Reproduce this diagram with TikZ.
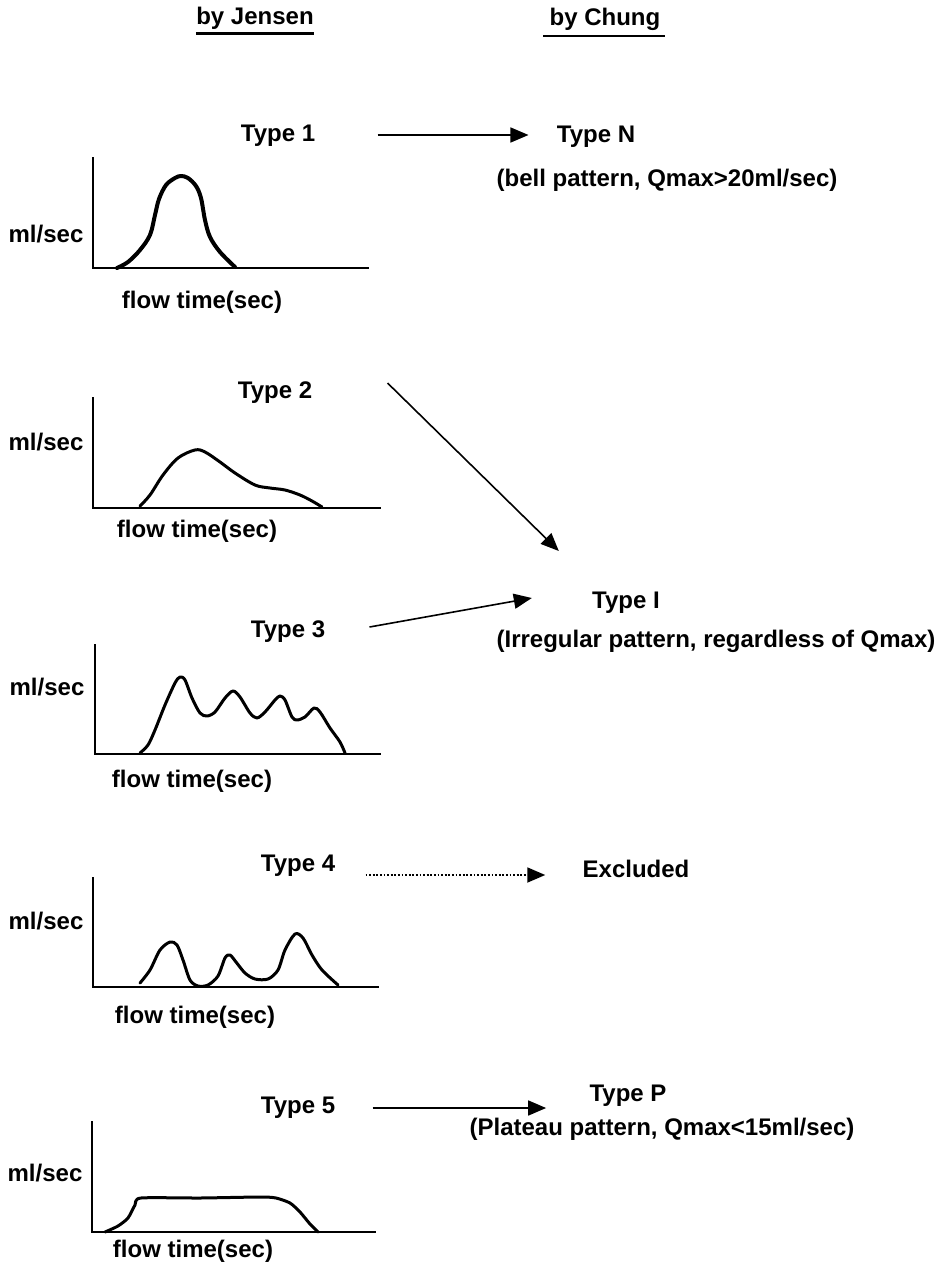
\documentclass[tikz,border=0pt]{standalone}
\usepackage{fontspec}
\setmainfont{Liberation Sans}
\usetikzlibrary{arrows.meta}
\begin{document}
\begin{tikzpicture}[x=0.5pt,y=-0.5pt,
  lbl/.style={font=\bfseries\fontsize{12pt}{14pt}\selectfont, inner sep=0pt, anchor=center},
  axis/.style={line width=1.1pt, line cap=rect},
  curve/.style={line width=1.5pt, line join=round, line cap=round},
  arr/.style={line width=0.8pt, -{Triangle[length=9pt,width=7.5pt]}},
  darr/.style={line width=0.9pt, dash pattern=on 0.9pt off 0.9pt, -{Triangle[length=9pt,width=7.5pt]}},
  ul/.style={line width=1.1pt}]
\useasboundingbox (0,0) rectangle (942,1264);
% headers
\node[lbl] (bj) at (255,18) {by Jensen};
\node[lbl] (bc) at (605,19) {by Chung};
\draw[ul] ([yshift=-2pt]bj.south west) -- ([yshift=-2pt]bj.south east);
\draw[ul] ([xshift=-3pt,yshift=-2.5pt]bc.south west) -- ([xshift=2pt,yshift=-2.5pt]bc.south east);
% right labels
\node[lbl] (tN) at (596,137) {Type N};
\node[lbl] (tNd) at (667,180) {(bell pattern, Qmax>20ml/sec)};
\node[lbl] (tI) at (626,603) {Type I};
\node[lbl] (tId) at (716,641) {(Irregular pattern, regardless of Qmax)};
\node[lbl] (ex) at (636,869) {Excluded};
\node[lbl] (tP) at (628,1096) {Type P};
\node[lbl] (tPd) at (662,1129) {(Plateau pattern, Qmax<15ml/sec)};
% left labels
\node[lbl] (t1) at (278,136) {Type 1};
\node[lbl] (t2) at (275,393) {Type 2};
\node[lbl] (t3) at (288,632) {Type 3};
\node[lbl] (t4) at (298,866) {Type 4};
\node[lbl] (t5) at (298,1108) {Type 5};
\node[lbl] (y1) at (46,234) {ml/sec};
\node[lbl] (x1) at (202,302) {flow time(sec)};
\node[lbl] (y2) at (46,442) {ml/sec};
\node[lbl] (x2) at (197,531) {flow time(sec)};
\node[lbl] (y3) at (47,687) {ml/sec};
\node[lbl] (x3) at (192,781) {flow time(sec)};
\node[lbl] (y4) at (46,921) {ml/sec};
\node[lbl] (x4) at (195,1017) {flow time(sec)};
\node[lbl] (y5) at (45,1173) {ml/sec};
\node[lbl] (x5) at (193,1251) {flow time(sec)};
% arrows
\draw[arr] ([shift={(62,-1)}]t1.east) -- ([shift={(-28,-2)}]tN.west);
\draw[arr] ([shift={(75,-10)}]t2.east) -- ([shift={(-33,-52)}]tI.west);
\draw[arr] ([shift={(44,-5)}]t3.east) -- ([shift={(-60,-5)}]tI.west);
\draw[darr] ([shift={(30,9)}]t4.east) -- ([shift={(-37,6)}]ex.west);
\draw[arr] ([shift={(37,0)}]t5.east) -- ([shift={(-43,12)}]tP.west);
% panel 1
\draw[axis] (93,158) -- (93,268) -- (368,268);
\draw[curve, line width=2pt] plot[smooth, tension=0.55] coordinates {(117,268) (128,262) (140,250) (150,235) (155,215) (159,199) (166,185) (175,178) (181,176) (188,178) (196,186) (201,198) (205,220) (210,237) (220,252) (235,267)};
% panel 2
\draw[axis] (93,398) -- (93,508) -- (380,508);
\draw[curve] plot[smooth, tension=0.55] coordinates {(140,506) (150,495) (163,475) (178,458) (195,450) (205,452) (220,462) (235,473) (255,485) (270,488) (285,490) (300,495) (312,501) (322,507)};
% panel 3
\draw[axis] (95,645) -- (95,754) -- (380,754);
\draw[curve] plot[smooth, tension=0.5] coordinates {(140,753) (148,745) (155,730) (165,705) (175,683) (180,677) (185,680) (192,698) (200,713) (207,716) (215,712) (225,698) (233,691) (240,697) (250,713) (257,718) (265,712) (275,700) (280,696) (285,700) (292,717) (297,720) (305,717) (314,708) (320,712) (330,728) (340,742) (345,753)};
% panel 4
\draw[axis] (93,878) -- (93,987) -- (378,987);
\draw[curve] plot[smooth, tension=0.5] coordinates {(140,983) (150,970) (160,950) (170,942) (177,945) (183,960) (190,980) (198,986) (208,985) (218,976) (225,958) (230,955) (236,962) (245,973) (255,979) (268,979) (278,970) (285,950) (295,934) (303,938) (312,955) (322,970) (338,985)};
% panel 5
\draw[axis] (92,1122) -- (92,1232) -- (375,1232);
\draw[curve] plot[smooth, tension=0.4] coordinates {(105,1232) (118,1226) (128,1218) (135,1205) (141,1198) (200,1198) (260,1197) (276,1198) (290,1203) (300,1212) (310,1224) (318,1232)};
\end{tikzpicture}
\end{document}
